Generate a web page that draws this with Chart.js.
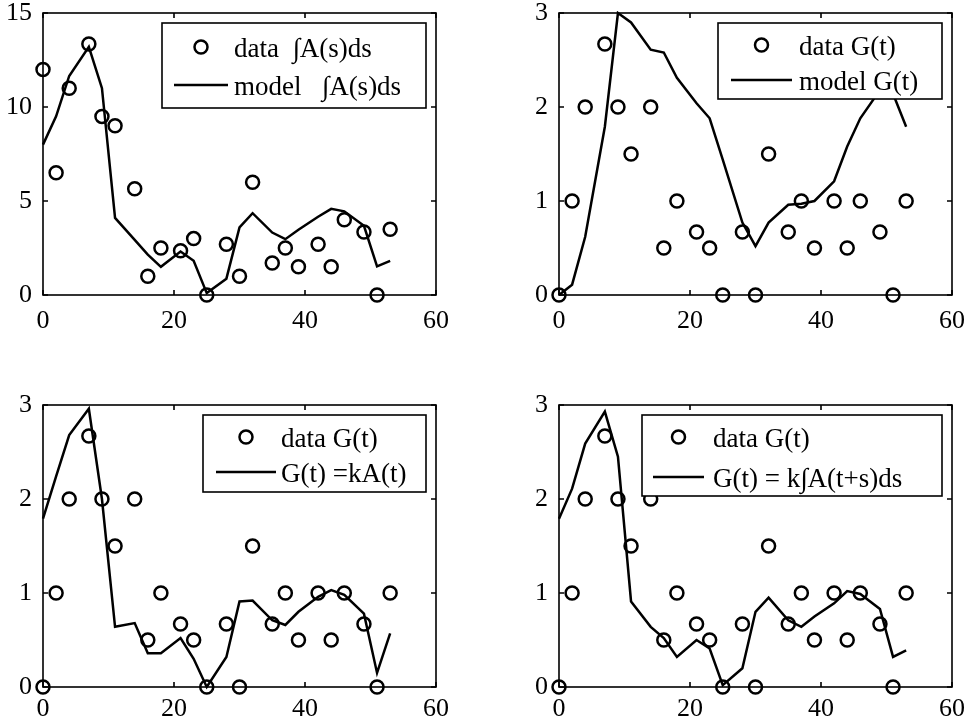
<!DOCTYPE html>
<html>
<head>
<meta charset="utf-8">
<script src="https://cdn.jsdelivr.net/npm/chart.js@4.4.1/dist/chart.umd.min.js"></script>
<style>
  body { margin: 0; background: #fff; width: 965px; height: 728px; position: relative; overflow: hidden; }
  canvas { position: absolute; }
</style>
</head>
<body>
<canvas id="p1" width="480" height="364" style="left:0;top:0"></canvas>
<canvas id="p2" width="465" height="364" style="left:500px;top:0"></canvas>
<canvas id="p3" width="480" height="364" style="left:0;top:364px"></canvas>
<canvas id="p4" width="465" height="364" style="left:500px;top:364px"></canvas>
<script>
// sampling days
const days = [0, 2, 4, 7, 9, 11, 14, 16, 18, 21, 23, 25, 28, 30, 32, 35, 37, 39, 42, 44, 46, 49, 51, 53];

// integrated A(s): measured and fitted
const intAData = [12.0, 6.5, 11.0, 13.35, 9.5, 9.0, 5.65, 1.0, 2.5, 2.35, 3.0, 0, 2.7, 1.0, 6.0, 1.7, 2.5, 1.5, 2.7, 1.5, 4.0, 3.35, 0, 3.5];
const intAModel = [8.0, 9.5, 11.65, 13.2, 11.0, 4.1, 2.93, 2.15, 1.5, 2.31, 1.82, 0.1, 0.87, 3.6, 4.35, 3.32, 2.97, 3.47, 4.16, 4.58, 4.45, 3.68, 1.52, 1.82];

// G(t): measured, plus three model curves
const gData = [0, 1, 2, 2.67, 2, 1.5, 2, 0.5, 1, 0.67, 0.5, 0, 0.67, 0, 1.5, 0.67, 1, 0.5, 1, 0.5, 1, 0.67, 0, 1];
const gModel = [0, 0.11, 0.62, 1.79, 3.0, 2.9, 2.61, 2.58, 2.31, 2.04, 1.88, 1.44, 0.77, 0.52, 0.77, 0.96, 0.97, 1.0, 1.21, 1.58, 1.88, 2.18, 2.14, 1.79];
const gKA = [1.79, 2.24, 2.68, 2.96, 2.0, 0.64, 0.68, 0.36, 0.36, 0.52, 0.3, 0.0, 0.32, 0.91, 0.92, 0.71, 0.66, 0.8, 0.96, 1.03, 0.98, 0.78, 0.15, 0.57];
const gKIntA = [1.79, 2.11, 2.59, 2.93, 2.45, 0.91, 0.64, 0.52, 0.32, 0.5, 0.41, 0.02, 0.2, 0.8, 0.95, 0.71, 0.64, 0.75, 0.89, 1.02, 0.99, 0.83, 0.32, 0.39];

// axis ticks
const xTicks = [0, 20, 40, 60];
const yTicksA = [0, 5, 10, 15];
const yTicksG = [0, 1, 2, 3];

Chart.defaults.font.family = '"Liberation Serif", "Times New Roman", serif';
Chart.defaults.font.size = 26;
Chart.defaults.color = '#000';

const pts = (xs, ys) => xs.map((x, i) => ({ x: x, y: ys[i] }));

// box around the plot area with inward ticks on all four sides
const axesBox = {
  id: 'axesBox',
  beforeDatasetsDraw(chart) {
    const { ctx, chartArea: a, scales: { x, y } } = chart;
    ctx.save();
    ctx.strokeStyle = '#000';
    ctx.lineWidth = 1.6;
    ctx.strokeRect(a.left, a.top, a.right - a.left, a.bottom - a.top);
    ctx.beginPath();
    x.ticks.forEach(t => {
      const px = x.getPixelForValue(t.value);
      ctx.moveTo(px, a.bottom); ctx.lineTo(px, a.bottom - 5);
      ctx.moveTo(px, a.top); ctx.lineTo(px, a.top + 5);
    });
    y.ticks.forEach(t => {
      const py = y.getPixelForValue(t.value);
      ctx.moveTo(a.left, py); ctx.lineTo(a.left + 5, py);
      ctx.moveTo(a.right, py); ctx.lineTo(a.right - 5, py);
    });
    ctx.stroke();
    ctx.restore();
  }
};

// legend drawn inside the plot, top-right, on a white box
const boxLegend = {
  id: 'boxLegend',
  afterDatasetsDraw(chart, args, opts) {
    const { ctx, chartArea: a } = chart;
    const left = a.right - 10 - opts.w;
    const top = a.top + 10;
    ctx.save();
    ctx.fillStyle = '#fff';
    ctx.fillRect(left, top, opts.w, opts.h);
    ctx.strokeStyle = '#000';
    ctx.lineWidth = 1.6;
    ctx.strokeRect(left, top, opts.w, opts.h);
    chart.data.datasets.forEach((ds, i) => {
      const cy = top + opts.rows[i];
      ctx.strokeStyle = '#000';
      ctx.lineWidth = 2.5;
      ctx.beginPath();
      if (ds.showLine) {
        ctx.moveTo(left + opts.sym[0], cy);
        ctx.lineTo(left + opts.sym[1], cy);
      } else {
        ctx.arc(left + (opts.sym[0] + opts.sym[1]) / 2, cy, 6.5, 0, Math.PI * 2);
      }
      ctx.stroke();
      ctx.fillStyle = '#000';
      ctx.font = '27px "Liberation Serif", serif';
      ctx.textBaseline = 'middle';
      ctx.fillText(ds.label, left + opts.text, cy + 3);
    });
    ctx.restore();
  }
};

Chart.register(axesBox, boxLegend);

function makePanel(id, yMax, yTicks, dataY, modelY, labels, yWidth, pad, xPad, legend) {
  new Chart(document.getElementById(id), {
    type: 'scatter',
    data: {
      datasets: [
        {
          label: labels[0],
          data: pts(days, dataY),
          showLine: false,
          pointStyle: 'circle',
          pointRadius: 6.5,
          pointBorderWidth: 2.5,
          borderColor: '#000',
          backgroundColor: 'rgba(0,0,0,0)',
          clip: false
        },
        {
          label: labels[1],
          data: pts(days, modelY),
          showLine: true,
          pointRadius: 0,
          borderWidth: 2.5,
          borderColor: '#000',
          borderJoinStyle: 'miter',
          tension: 0,
          clip: false
        }
      ]
    },
    options: {
      responsive: false,
      animation: false,
      layout: { autoPadding: false, padding: pad },
      plugins: {
        legend: { display: false },
        tooltip: { enabled: false },
        boxLegend: legend
      },
      scales: {
        x: {
          type: 'linear',
          min: 0,
          max: 60,
          afterBuildTicks: s => { s.ticks = xTicks.map(v => ({ value: v })); },
          // fixed height; end labels may hang past the plot edges
          afterFit: s => { s.height = 40; s.paddingLeft = 0; s.paddingRight = 0; },
          ticks: { padding: xPad, maxRotation: 0 },
          grid: { display: false, drawTicks: false },
          border: { display: false }
        },
        y: {
          type: 'linear',
          min: 0,
          max: yMax,
          afterBuildTicks: s => { s.ticks = yTicks.map(v => ({ value: v })); },
          afterFit: s => { s.width = yWidth; s.paddingTop = 0; s.paddingBottom = 0; },
          ticks: { padding: 11 },
          grid: { display: false, drawTicks: false },
          border: { display: false }
        }
      }
    }
  });
}

makePanel('p1', 15, yTicksA, intAData, intAModel,
  ['data  \u222BA(s)ds', 'model   \u222BA(s)ds'], 43,
  { left: 0, top: 13, right: 44, bottom: 29 }, 11,
  { w: 264, h: 85, rows: [24, 62], sym: [12, 66], text: 72 });

makePanel('p2', 3, yTicksG, gData, gModel,
  ['data G(t)', 'model G(t)'], 59,
  { left: 0, top: 13, right: 13, bottom: 29 }, 11,
  { w: 224, h: 76, rows: [22, 57], sym: [13, 74], text: 81 });

makePanel('p3', 3, yTicksG, gData, gKA,
  ['data G(t)', 'G(t) =kA(t)'], 43,
  { left: 0, top: 41, right: 44, bottom: 1 }, 7,
  { w: 223, h: 77, rows: [22, 57], sym: [13, 73], text: 78 });

makePanel('p4', 3, yTicksG, gData, gKIntA,
  ['data G(t)', 'G(t) = k\u222BA(t+s)ds'], 59,
  { left: 0, top: 41, right: 13, bottom: 1 }, 7,
  { w: 300, h: 81, rows: [22, 62], sym: [11, 62], text: 71 });
</script>
</body>
</html>
